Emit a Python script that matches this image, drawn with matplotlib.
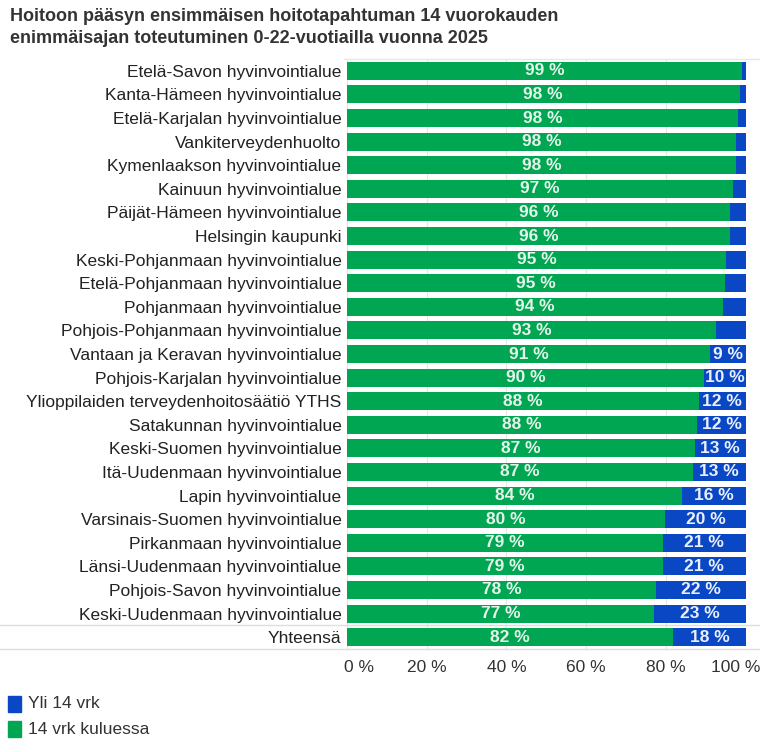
import matplotlib.pyplot as plt
import matplotlib.transforms as mtransforms
from matplotlib.patches import Rectangle

plt.rcParams['font.family'] = ['Liberation Sans', 'DejaVu Sans']

alueet = [
    'Etelä-Savon hyvinvointialue',
    'Kanta-Hämeen hyvinvointialue',
    'Etelä-Karjalan hyvinvointialue',
    'Vankiterveydenhuolto',
    'Kymenlaakson hyvinvointialue',
    'Kainuun hyvinvointialue',
    'Päijät-Hämeen hyvinvointialue',
    'Helsingin kaupunki',
    'Keski-Pohjanmaan hyvinvointialue',
    'Etelä-Pohjanmaan hyvinvointialue',
    'Pohjanmaan hyvinvointialue',
    'Pohjois-Pohjanmaan hyvinvointialue',
    'Vantaan ja Keravan hyvinvointialue',
    'Pohjois-Karjalan hyvinvointialue',
    'Ylioppilaiden terveydenhoitosäätiö YTHS',
    'Satakunnan hyvinvointialue',
    'Keski-Suomen hyvinvointialue',
    'Itä-Uudenmaan hyvinvointialue',
    'Lapin hyvinvointialue',
    'Varsinais-Suomen hyvinvointialue',
    'Pirkanmaan hyvinvointialue',
    'Länsi-Uudenmaan hyvinvointialue',
    'Pohjois-Savon hyvinvointialue',
    'Keski-Uudenmaan hyvinvointialue',
    'Yhteensä',
]

# osuus (%), 14 vrk kuluessa / yli 14 vrk
kuluessa = [99.2, 98.5, 98.2, 97.7, 97.6, 96.9, 96.1, 96.1, 95.2, 94.9, 94.4, 92.6,
            91.2, 89.6, 88.2, 87.9, 87.3, 86.7, 84.0, 79.9, 79.3, 79.3, 77.5, 77.1, 81.9]
yli = [0.8, 1.5, 1.8, 2.3, 2.4, 3.1, 3.9, 3.9, 4.8, 5.1, 5.6, 7.4,
       8.8, 10.4, 11.8, 12.1, 12.7, 13.3, 16.0, 20.1, 20.7, 20.7, 22.5, 22.9, 18.1]

vihrea = '#00a651'
sininen = '#0a47c4'

fig = plt.figure(figsize=(7.6, 7.52), dpi=100)
ax = fig.add_axes([0.4566, 0.137, 0.5244, 0.7845])

y = list(range(len(alueet)))
ax.barh(y, kuluessa, height=0.76, color=vihrea, zorder=2)
ax.barh(y, yli, left=kuluessa, height=0.76, color=sininen, zorder=2)

for i in y:
    ax.text(kuluessa[i] / 2, i, f'{round(kuluessa[i])} %', ha='center', va='center',
            color='#e4f4ea', fontsize=12.5, fontweight='bold', zorder=3)
    if yli[i] >= 8:
        ax.text(kuluessa[i] + yli[i] / 2, i, f'{round(yli[i])} %', ha='center',
                va='center', color='#eaf0fb', fontsize=12.5, fontweight='bold', zorder=3)

ax.set_xlim(0, 100)
ax.set_ylim(len(alueet) - 0.5, -0.5)
ax.set_yticks(y)
ax.set_yticklabels(alueet, fontsize=12.5, color='#222222')
ax.set_xticks([0, 20, 40, 60, 80, 100])
ax.set_xticklabels(['0 %', '20 %', '40 %', '60 %', '80 %', '100 %'], fontsize=12.5,
                   color='#333333')
ax.tick_params(length=0, pad=4)
ax.tick_params(axis='x', pad=8)
for s in ax.spines.values():
    s.set_visible(False)
ax.grid(axis='x', color='#e6e6e6', linewidth=0.8, zorder=0)

# reunimmaiset x-tekstit sisemmäksi
xl = ax.get_xticklabels()
xl[0].set_transform(xl[0].get_transform() + mtransforms.ScaledTranslation(12 / 100, 0, fig.dpi_scale_trans))
xl[-1].set_transform(xl[-1].get_transform() + mtransforms.ScaledTranslation(-10 / 100, 0, fig.dpi_scale_trans))

# erotinviivat
tr = mtransforms.blended_transform_factory(fig.transFigure, ax.transData)
for yy in [len(alueet) - 1.5, len(alueet) - 0.5]:
    ax.plot([0, 1], [yy, yy], transform=tr, color='#dddddd', linewidth=1, clip_on=False)
ax.plot([0.452, 1], [-0.5, -0.5], transform=tr, color='#e6e6e6', linewidth=1, clip_on=False)

fig.text(0.013, 0.99, 'Hoitoon pääsyn ensimmäisen hoitotapahtuman 14 vuorokauden\n'
         'enimmäisajan toteutuminen 0-22-vuotiailla vuonna 2025',
         ha='left', va='top', fontsize=13, fontweight='bold', color='#333333',
         linespacing=1.45)

# selite
for j, (nimi, vari) in enumerate([('Yli 14 vrk', sininen), ('14 vrk kuluessa', vihrea)]):
    yk = 1 - (704 + j * 25) / 752
    fig.patches.append(Rectangle((0.011, yk - 0.01), 0.016, 0.02, color=vari,
                                 transform=fig.transFigure, figure=fig))
    fig.text(0.037, yk, nimi, ha='left', va='center', fontsize=12.5, color='#333333')

fig.savefig('out.png', dpi=100)
